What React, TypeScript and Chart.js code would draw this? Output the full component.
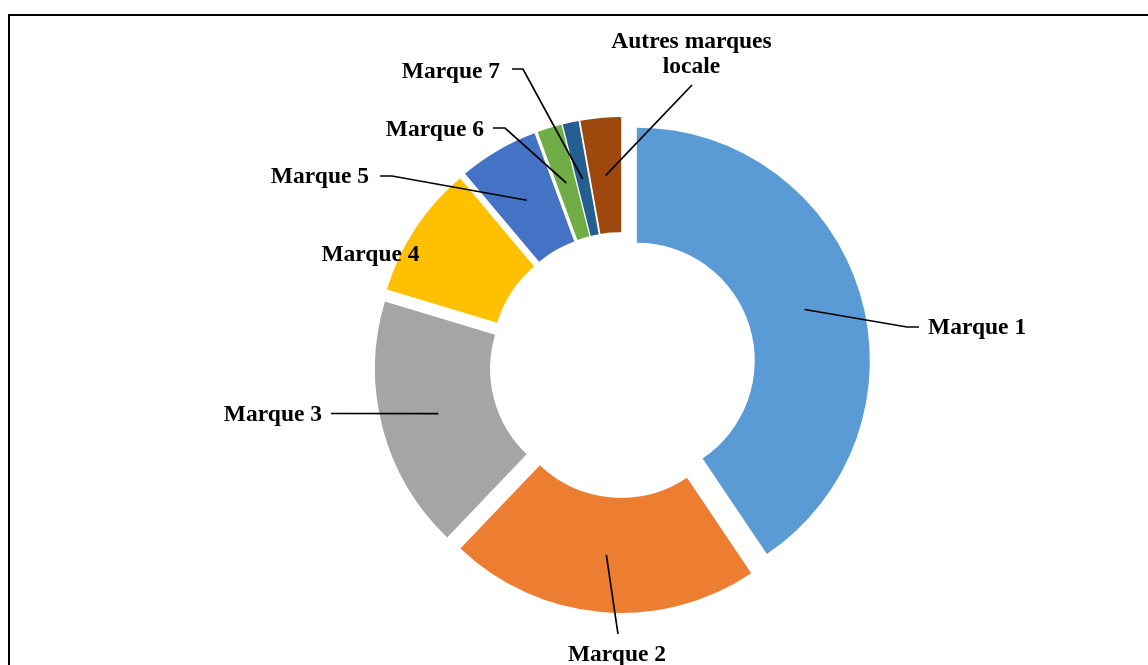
import React, { useEffect, useRef } from "react";
import { Chart, registerables } from "chart.js";

Chart.register(...registerables);

// ---- data ----
const categories = [
  "Marque 1",
  "Marque 2",
  "Marque 3",
  "Marque 4",
  "Marque 5",
  "Marque 6",
  "Marque 7",
  "Autres marques locale",
];
const labelLines = [
  ["Marque 1"],
  ["Marque 2"],
  ["Marque 3"],
  ["Marque 4"],
  ["Marque 5"],
  ["Marque 6"],
  ["Marque 7"],
  ["Autres marques", "locale"],
];
const shares = [40.5, 21.5, 17.5, 9.2, 5.5, 1.7, 1.1, 2.8];
const colors = [
  "#5B9BD5",
  "#ED7D31",
  "#A5A5A5",
  "#FFC000",
  "#4472C4",
  "#70AD47",
  "#255E91",
  "#9E480E",
];

// ---- layout (px, relative to the doughnut centre) ----
const EXPLODE = 15;
const OUTER_RADIUS = 233;
const CUTOUT = "50.6%";
const FONT = "bold 23.5px 'Liberation Serif', 'Times New Roman', serif";
const LINE_GAP = 25;

type LabelPos = {
  tx: number;
  ty: number;
  align: CanvasTextAlign;
  end: [number, number] | null;
  elbow?: [number, number];
};

const labelLayout: LabelPos[] = [
  { tx: 305.5, ty: -37, align: "left", end: [296.5, -38], elbow: [284.5, -38] },
  { tx: -5.5, ty: 289.5, align: "center", end: [-4.5, 269] },
  { tx: -300.5, ty: 50, align: "right", end: [-291.5, 48.5] },
  { tx: -252, ty: -110, align: "center", end: null },
  { tx: -253.5, ty: -188, align: "right", end: [-242.5, -189], elbow: [-230.5, -189] },
  { tx: -138.5, ty: -235, align: "right", end: [-129.5, -237], elbow: [-117.5, -237] },
  { tx: -122.5, ty: -293, align: "right", end: [-110.5, -296], elbow: [-99.5, -296] },
  { tx: 69, ty: -323, align: "center", end: [69.5, -280] },
];

const explodePlugin = {
  id: "explodeAndLabels",
  beforeDatasetDraw(chart: any, args: any) {
    const meta = chart.getDatasetMeta(args.index);
    const ctx = chart.ctx as CanvasRenderingContext2D;
    meta.data.forEach((arc: any) => {
      const h = (arc.startAngle + arc.endAngle) / 2;
      ctx.save();
      ctx.translate(Math.cos(h) * EXPLODE, Math.sin(h) * EXPLODE);
      arc.draw(ctx, chart.chartArea);
      ctx.restore();
    });
    return false;
  },
  afterDatasetsDraw(chart: any) {
    const meta = chart.getDatasetMeta(0);
    const ctx = chart.ctx as CanvasRenderingContext2D;
    if (!meta.data.length) return;
    const cx = meta.data[0].x;
    const cy = meta.data[0].y;
    ctx.save();
    meta.data.forEach((arc: any, i: number) => {
      const lay = labelLayout[i];
      if (!lay) return;
      if (lay.end) {
        const h = (arc.startAngle + arc.endAngle) / 2;
        const r = EXPLODE + (arc.innerRadius + arc.outerRadius) / 2;
        const ax = cx + Math.cos(h) * r;
        const ay = cy + Math.sin(h) * r;
        ctx.beginPath();
        ctx.strokeStyle = "#000";
        ctx.lineWidth = 1.7;
        ctx.moveTo(ax, ay);
        if (lay.elbow) ctx.lineTo(cx + lay.elbow[0], cy + lay.elbow[1]);
        ctx.lineTo(cx + lay.end[0], cy + lay.end[1]);
        ctx.stroke();
      }
      ctx.fillStyle = "#000";
      ctx.font = FONT;
      ctx.textAlign = lay.align;
      ctx.textBaseline = "middle";
      labelLines[i].forEach((t, k) => {
        ctx.fillText(t, cx + lay.tx, cy + lay.ty + k * LINE_GAP);
      });
    });
    ctx.restore();
  },
};

export default function App() {
  const ref = useRef<HTMLCanvasElement | null>(null);
  useEffect(() => {
    document.body.style.overflow = "hidden";
    if (!ref.current) return;
    const chart = new Chart(ref.current, {
      type: "doughnut",
      data: {
        labels: categories,
        datasets: [
          {
            data: shares,
            backgroundColor: colors,
            borderWidth: 0,
          },
        ],
      },
      options: {
        responsive: false,
        animation: false,
        radius: OUTER_RADIUS,
        cutout: CUTOUT,
        layout: { padding: { left: 97, top: 65, right: 0, bottom: 0 } },
        plugins: {
          legend: { display: false },
          tooltip: { enabled: false },
        },
      } as any,
      plugins: [explodePlugin as any],
    });
    return () => chart.destroy();
  }, []);

  return (
    <div style={{ position: "absolute", left: 0, top: 0, width: 1148, height: 665, background: "#fff", overflow: "hidden" }}>
      <div
        style={{
          position: "absolute",
          left: 8,
          top: 14,
          width: 1140,
          height: 651,
          borderTop: "2px solid #000",
          borderLeft: "2px solid #000",
          boxSizing: "border-box",
        }}
      />
      <canvas ref={ref} width={1148} height={665} style={{ position: "absolute", left: 0, top: 0, width: 1148, height: 665 }} />
    </div>
  );
}
